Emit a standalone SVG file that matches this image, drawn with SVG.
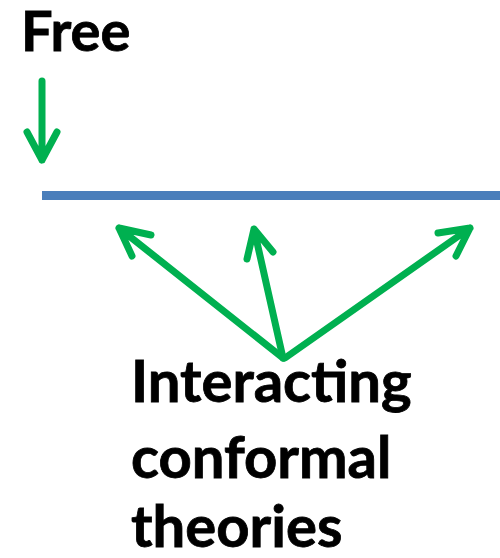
<svg xmlns="http://www.w3.org/2000/svg" width="500" height="558" viewBox="0 0 500 558">
  <style>
    .label { font-family: Lato, "Liberation Sans", sans-serif; font-weight: bold; fill: #000; stroke: #000; stroke-width: 0.8; }
    .big { font-size: 58px; }
    .head { font-size: 56px; }
    .arrow { stroke: #00b050; stroke-width: 7; stroke-linecap: round; stroke-linejoin: round; fill: none; }
    .line { stroke: #4a7ebb; stroke-width: 9; }
  </style>
  <rect width="500" height="558" fill="#fff"/>

  <g id="free">
    <text class="label head" x="21" y="51">Free</text>
  </g>

  <g id="axis">
    <line class="line" x1="42" y1="195.5" x2="500" y2="195.5"/>
  </g>

  <g id="interacting">
    <text class="label big" x="131" y="402">Interacting</text>
    <text class="label big" x="131" y="478">conformal</text>
    <text class="label big" x="131" y="547">theories</text>
  </g>

  <g id="connectors">
    <!-- free arrow -->
    <path class="arrow" d="M42,81 L42,160 M27,132 L42,160 L57,132"/>
    <!-- interacting arrows fanning up to the axis -->
    <path class="arrow" d="M283,358 L119,228 M151,235 L119,228 L132,256"/>
    <path class="arrow" d="M283,358 L254,229 M247,259 L254,229 L273,252"/>
    <path class="arrow" d="M285,358 L470,228 M438,233 L470,228 L456,256"/>
  </g>
</svg>
